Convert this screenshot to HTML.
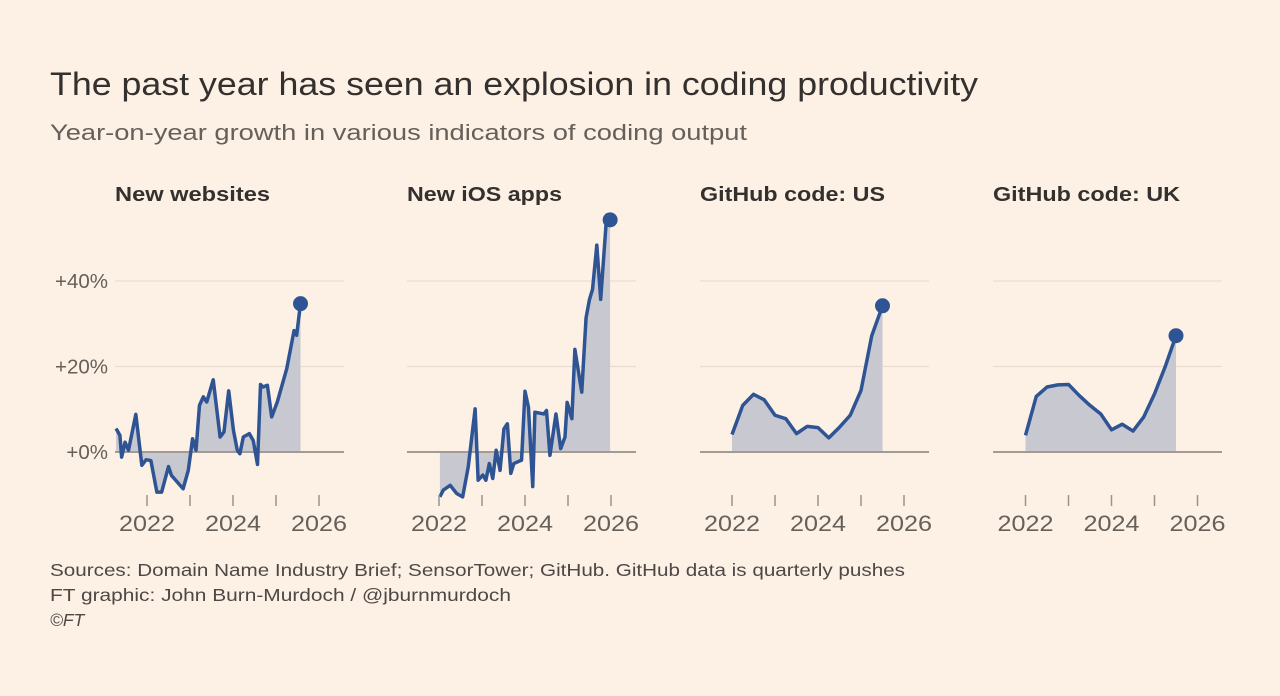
<!DOCTYPE html>
<html><head><meta charset="utf-8"><style>
html,body{margin:0;padding:0;background:#fdf1e6;}
svg{display:block;font-family:"Liberation Sans",sans-serif;}
</style></head><body>
<svg id="c" width="1280" height="696" viewBox="0 0 1280 696">
<rect width="1280" height="696" fill="#fdf1e6"/>
<text x="50" y="95" font-size="32" fill="#33302e" textLength="928" lengthAdjust="spacingAndGlyphs">The past year has seen an explosion in coding productivity</text>
<text x="50" y="140" font-size="22" fill="#66605a" textLength="697" lengthAdjust="spacingAndGlyphs">Year-on-year growth in various indicators of coding output</text>
<g id="panels"></g>
<text x="50" y="576" font-size="17.5" fill="#4d4845" textLength="855" lengthAdjust="spacingAndGlyphs">Sources: Domain Name Industry Brief; SensorTower; GitHub. GitHub data is quarterly pushes</text>
<text x="50" y="601" font-size="17.5" fill="#4d4845" textLength="461" lengthAdjust="spacingAndGlyphs">FT graphic: John Burn-Murdoch / @jburnmurdoch</text>
<text x="50" y="626" font-size="17.5" fill="#4d4845" font-style="italic">©FT</text>
</svg>
<script>
const yTicks=[0,20,40];
const yTickLabels=["+0%","+20%","+40%"];
const xTicks=[2022,2023,2024,2025,2026];
const xTickLabels=["2022","2024","2026"];
const titles=["New websites","New iOS apps","GitHub code: US","GitHub code: UK"];
const webYears=[2021.28,2021.37,2021.41,2021.49,2021.57,2021.74,2021.88,2021.98,2022.09,2022.23,2022.34,2022.5,2022.57,2022.84,2022.96,2023.06,2023.14,2023.22,2023.31,2023.39,2023.54,2023.7,2023.79,2023.9,2024.01,2024.1,2024.16,2024.24,2024.38,2024.47,2024.57,2024.64,2024.7,2024.8,2024.9,2025.03,2025.25,2025.42,2025.48,2025.57];
const webValues=[5.5,3.9,-1.2,2.3,0.4,8.8,-3.1,-1.8,-2,-9.4,-9.4,-3.4,-5.5,-8.6,-4.3,3.1,0.4,10.9,12.9,11.7,16.9,3.5,4.7,14.3,5.1,0.4,-0.4,3.5,4.3,2.7,-2.9,15.8,15.2,15.6,8.2,11.7,19.5,28.4,27.3,34.7];
const iosYears=[2022.02,2022.1,2022.26,2022.41,2022.55,2022.68,2022.84,2022.91,2023.02,2023.09,2023.17,2023.25,2023.33,2023.42,2023.51,2023.59,2023.67,2023.74,2023.92,2024.0,2024.08,2024.18,2024.23,2024.44,2024.5,2024.58,2024.72,2024.83,2024.93,2024.98,2025.09,2025.16,2025.32,2025.42,2025.5,2025.57,2025.67,2025.76,2025.9,2025.98];
const iosValues=[-10.5,-8.9,-7.8,-9.7,-10.5,-3.5,10.1,-6.6,-5.4,-6.6,-2.7,-6.2,0.4,-4.3,5.4,6.6,-5,-2.7,-1.9,14.2,10.5,-8.1,9.3,8.9,9.7,-0.8,8.9,0.8,3.5,11.6,7.8,24,14,31.4,35.7,38,48.4,35.7,55.4,54.3];
const qYears=[2022,2022.25,2022.5,2022.75,2023,2023.25,2023.5,2023.75,2024,2024.25,2024.5,2024.75,2025,2025.25,2025.5];
const usValues=[4.1,10.9,13.5,12.2,8.6,7.8,4.3,6,5.7,3.3,5.8,8.6,14.4,27.2,34.2];
const ukValues=[3.9,13,15.2,15.7,15.8,13.2,10.9,8.9,5.2,6.5,4.9,8.2,13.6,20,27.2];

const series=[[webYears,webValues],[iosYears,iosValues],[qYears,usValues],[qYears,ukValues]];
const panelLeft=[115,407,700,993], panelWidth=229, x2022=[147,439,732,1025.5];
const titleWidth=[155,155,185,187];
const pxPerYear=43, zeroY=452, pxPerPct=4.275;
const NS="http://www.w3.org/2000/svg";
const root=document.getElementById('panels');
function mk(tag,attrs,parent){const e=document.createElementNS(NS,tag);for(const k in attrs)e.setAttribute(k,attrs[k]);(parent||root).appendChild(e);return e;}
const yScale=v=>zeroY-v*pxPerPct;
series.forEach((s,i)=>{
  const xScale=yr=>x2022[i]+(yr-2022)*pxPerYear;
  const g=mk('g',{});
  
  
  const t=mk('text',{x:panelLeft[i],y:201,'font-size':20,'font-weight':'bold',fill:'#33302e',textLength:titleWidth[i],lengthAdjust:'spacingAndGlyphs'},g);
  t.textContent=titles[i];
  
  
  yTicks.forEach((v,k)=>{
    if(v!==0){const gl=mk('line',{x1:panelLeft[i],x2:panelLeft[i]+panelWidth,y1:yScale(v),y2:yScale(v),stroke:'#eadccf','stroke-width':1.2},g);
      
      }
    if(i===0){const l=mk('text',{x:108,y:yScale(v)+7,'font-size':20.5,fill:'#66605a','text-anchor':'end'},g);
      l.textContent=yTickLabels[k];
      
      }
  });
  const [xs,vs]=s;
  let d='M'+xScale(xs[0])+','+zeroY;
  xs.forEach((x,k)=>{d+=' L'+xScale(x)+','+yScale(vs[k]);});
  d+=' L'+xScale(xs[xs.length-1])+','+zeroY+' Z';
  const a=mk('path',{d:d,fill:'#c8c8d0'},g);
  
  
  const z=mk('line',{x1:panelLeft[i],x2:panelLeft[i]+panelWidth,y1:zeroY,y2:zeroY,stroke:'#a39a92','stroke-width':2},g);
  
  
  const ln=mk('polyline',{points:xs.map((x,k)=>xScale(x)+','+yScale(vs[k])).join(' '),fill:'none',stroke:'#2e5494','stroke-width':3.5,'stroke-linejoin':'round'},g);
  
  
  const dot=mk('circle',{cx:xScale(xs[xs.length-1]),cy:yScale(vs[vs.length-1]),r:7.5,fill:'#2e5494'},g);
  
  
  xTicks.forEach(yr=>{const tk=mk('line',{x1:xScale(yr),x2:xScale(yr),y1:495,y2:506,stroke:'#9a938c','stroke-width':1.5},g);
    
    });
  xTickLabels.forEach(lbl=>{const l=mk('text',{x:xScale(+lbl),y:531,'font-size':22,fill:'#66605a','text-anchor':'middle',textLength:56,lengthAdjust:'spacingAndGlyphs'},g);
    l.textContent=lbl;
    
    });
});
</script>
</body></html>
